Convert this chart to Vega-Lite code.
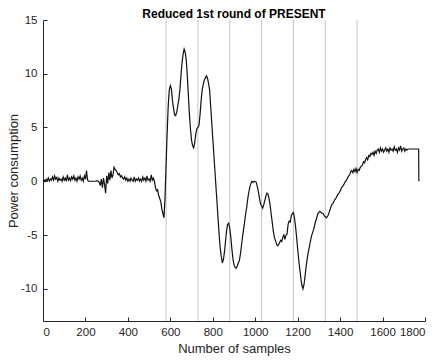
{
  "$schema": "https://vega.github.io/schema/vega-lite/v6.json",
  "width": 382,
  "height": 301,
  "autosize": "none",
  "padding": {"left": 43, "top": 20, "right": 13, "bottom": 39},
  "background": "white",
  "title": {"text": "Reduced 1st round of PRESENT", "font": "Liberation Sans", "fontSize": 12, "fontWeight": "bold", "color": "#000000", "offset": -7, "anchor": "middle", "frame": "group"},
  "config": {
    "view": {"stroke": null},
    "axis": {
      "grid": false,
      "domainColor": "#262626",
      "tickColor": "#262626",
      "labelColor": "#262626",
      "titleColor": "#262626",
      "labelFont": "Liberation Sans",
      "titleFont": "Liberation Sans",
      "labelFontSize": 11.5,
      "titleFontSize": 13,
      "titleFontWeight": "normal",
      "tickSize": -4,
      "domainWidth": 1,
      "tickWidth": 1,
      "labelOverlap": false
    }
  },
  "layer": [
    {
      "data": {"values": [{"x": 580}, {"x": 730}, {"x": 880}, {"x": 1030}, {"x": 1180}, {"x": 1330}, {"x": 1480}]},
      "mark": {"type": "rule", "color": "#c4c4c4", "strokeWidth": 1},
      "encoding": {"x": {"field": "x", "type": "quantitative"}}
    },
    {
      "data": {"values": [
        {"x":0,"y":0},{"x":5,"y":0.1},{"x":10,"y":0},{"x":15,"y":0.2},{"x":20,"y":0.05},{"x":25,"y":0.3},{"x":30,"y":0},{"x":35,"y":0.2},{"x":40,"y":0.1},{"x":45,"y":0.4},
        {"x":50,"y":0.1},{"x":55,"y":0.5},{"x":60,"y":0.2},{"x":65,"y":0.35},{"x":70,"y":0},{"x":75,"y":0.3},{"x":80,"y":0.1},{"x":85,"y":0.2},{"x":90,"y":0},{"x":95,"y":0.4},
        {"x":100,"y":0.1},{"x":105,"y":0.3},{"x":110,"y":0},{"x":115,"y":0.6},{"x":120,"y":0.1},{"x":125,"y":0.3},{"x":130,"y":0.05},{"x":135,"y":0.4},{"x":140,"y":0.2},{"x":145,"y":0.5},
        {"x":150,"y":0.1},{"x":155,"y":0.3},{"x":160,"y":0},{"x":165,"y":0.4},{"x":170,"y":0.2},{"x":175,"y":0.5},{"x":180,"y":0.1},{"x":185,"y":0.3},{"x":190,"y":0},{"x":195,"y":0.5},
        {"x":200,"y":0.2},{"x":205,"y":1.0},{"x":210,"y":0.1},{"x":215,"y":0},{"x":220,"y":0},{"x":225,"y":0},{"x":230,"y":0},{"x":235,"y":0},{"x":240,"y":0},{"x":245,"y":0},
        {"x":250,"y":0},{"x":255,"y":0.05},{"x":260,"y":0},{"x":265,"y":-0.1},{"x":270,"y":-0.4},{"x":275,"y":0.2},{"x":280,"y":-0.6},{"x":285,"y":0.3},{"x":290,"y":-0.3},{"x":295,"y":-1.1},
        {"x":300,"y":0.5},{"x":305,"y":-0.2},{"x":310,"y":0.8},{"x":315,"y":0.1},{"x":320,"y":1.0},{"x":325,"y":0.3},{"x":330,"y":0.6},{"x":335,"y":1.3},{"x":340,"y":1.1},{"x":345,"y":1.0},
        {"x":350,"y":0.8},{"x":355,"y":0.6},{"x":360,"y":0.7},{"x":365,"y":0.4},{"x":370,"y":0.5},{"x":375,"y":0.3},{"x":380,"y":0.2},{"x":385,"y":0.4},{"x":390,"y":0.1},{"x":395,"y":0.3},
        {"x":400,"y":0},{"x":405,"y":0.2},{"x":410,"y":0},{"x":415,"y":0.3},{"x":420,"y":0.1},{"x":425,"y":0},{"x":430,"y":0.4},{"x":435,"y":0},{"x":440,"y":0.2},{"x":445,"y":0.1},
        {"x":450,"y":0.3},{"x":455,"y":0},{"x":460,"y":0.2},{"x":465,"y":0},{"x":470,"y":0.4},{"x":475,"y":0.1},{"x":480,"y":0.3},{"x":485,"y":0},{"x":490,"y":0.5},{"x":495,"y":0.1},
        {"x":500,"y":0.2},{"x":505,"y":0},{"x":510,"y":0.6},{"x":515,"y":0.1},{"x":520,"y":0.3},{"x":525,"y":0},{"x":530,"y":-0.6},{"x":535,"y":-0.9},{"x":540,"y":-0.8},{"x":545,"y":-1.3},
        {"x":550,"y":-1.6},{"x":555,"y":-1.9},{"x":560,"y":-2.6},{"x":565,"y":-3.0},{"x":570,"y":-3.4},{"x":575,"y":-1.5},{"x":580,"y":1.5},{"x":585,"y":4.5},{"x":590,"y":7.0},{"x":595,"y":8.5},
        {"x":600,"y":8.9},{"x":605,"y":8.6},{"x":610,"y":7.5},{"x":615,"y":6.8},{"x":620,"y":6.2},{"x":625,"y":6.1},{"x":630,"y":6.4},{"x":635,"y":7.0},{"x":640,"y":7.6},{"x":645,"y":8.5},
        {"x":650,"y":9.8},{"x":655,"y":11.0},{"x":660,"y":11.8},{"x":665,"y":12.3},{"x":670,"y":12.0},{"x":675,"y":11.3},{"x":680,"y":9.8},{"x":685,"y":8.0},{"x":690,"y":6.2},{"x":695,"y":4.8},
        {"x":700,"y":3.8},{"x":705,"y":3.3},{"x":710,"y":3.1},{"x":715,"y":3.6},{"x":720,"y":4.4},{"x":725,"y":4.9},{"x":730,"y":5.0},{"x":735,"y":5.2},{"x":740,"y":6.2},{"x":745,"y":7.5},
        {"x":750,"y":8.5},{"x":755,"y":9.0},{"x":760,"y":9.4},{"x":765,"y":9.6},{"x":770,"y":9.8},{"x":775,"y":9.6},{"x":780,"y":9.1},{"x":785,"y":8.5},{"x":790,"y":7.0},{"x":795,"y":5.5},
        {"x":800,"y":4.0},{"x":805,"y":2.5},{"x":810,"y":1.0},{"x":815,"y":-0.5},{"x":820,"y":-2.0},{"x":825,"y":-3.5},{"x":830,"y":-5.0},{"x":835,"y":-6.2},{"x":840,"y":-7.0},{"x":845,"y":-7.6},
        {"x":850,"y":-7.3},{"x":855,"y":-6.6},{"x":860,"y":-5.6},{"x":865,"y":-4.6},{"x":870,"y":-4.0},{"x":875,"y":-3.9},{"x":880,"y":-4.4},{"x":885,"y":-5.2},{"x":890,"y":-6.3},{"x":895,"y":-7.2},
        {"x":900,"y":-7.8},{"x":905,"y":-8.0},{"x":910,"y":-8.1},{"x":915,"y":-7.9},{"x":920,"y":-7.6},{"x":925,"y":-7.4},{"x":930,"y":-6.8},{"x":935,"y":-6.0},{"x":940,"y":-5.2},{"x":945,"y":-4.5},
        {"x":950,"y":-3.8},{"x":955,"y":-3.0},{"x":960,"y":-2.4},{"x":965,"y":-1.6},{"x":970,"y":-1.0},{"x":975,"y":-0.5},{"x":980,"y":-0.2},{"x":985,"y":0},{"x":990,"y":-0.1},{"x":995,"y":0},
        {"x":1000,"y":-0.05},{"x":1005,"y":-0.1},{"x":1010,"y":-0.5},{"x":1015,"y":-1.0},{"x":1020,"y":-1.6},{"x":1025,"y":-2.1},{"x":1030,"y":-2.3},{"x":1035,"y":-2.5},{"x":1040,"y":-2.2},{"x":1045,"y":-1.8},
        {"x":1050,"y":-1.4},{"x":1055,"y":-1.1},{"x":1060,"y":-1.2},{"x":1065,"y":-1.6},{"x":1070,"y":-2.2},{"x":1075,"y":-3.0},{"x":1080,"y":-3.8},{"x":1085,"y":-4.6},{"x":1090,"y":-5.2},{"x":1095,"y":-5.5},
        {"x":1100,"y":-5.8},{"x":1105,"y":-6.0},{"x":1110,"y":-5.9},{"x":1115,"y":-5.7},{"x":1120,"y":-5.5},{"x":1125,"y":-5.6},{"x":1130,"y":-5.2},{"x":1135,"y":-5.0},{"x":1140,"y":-5.4},{"x":1145,"y":-5.0},
        {"x":1150,"y":-4.9},{"x":1155,"y":-4.0},{"x":1160,"y":-3.7},{"x":1165,"y":-3.8},{"x":1170,"y":-3.2},{"x":1175,"y":-3.0},{"x":1180,"y":-2.9},{"x":1185,"y":-3.4},{"x":1190,"y":-4.2},{"x":1195,"y":-5.2},
        {"x":1200,"y":-6.3},{"x":1205,"y":-7.3},{"x":1210,"y":-8.2},{"x":1215,"y":-9.0},{"x":1220,"y":-9.7},{"x":1225,"y":-10.0},{"x":1230,"y":-9.6},{"x":1235,"y":-8.8},{"x":1240,"y":-7.9},{"x":1245,"y":-7.2},
        {"x":1250,"y":-6.6},{"x":1255,"y":-6.1},{"x":1260,"y":-5.6},{"x":1265,"y":-5.1},{"x":1270,"y":-4.8},{"x":1275,"y":-4.5},{"x":1280,"y":-4.1},{"x":1285,"y":-3.7},{"x":1290,"y":-3.4},{"x":1295,"y":-3.0},
        {"x":1300,"y":-2.9},{"x":1305,"y":-2.8},{"x":1310,"y":-2.9},{"x":1315,"y":-3.0},{"x":1320,"y":-3.0},{"x":1325,"y":-3.2},{"x":1330,"y":-3.3},{"x":1335,"y":-3.4},{"x":1340,"y":-3.3},{"x":1345,"y":-3.1},
        {"x":1350,"y":-2.8},{"x":1355,"y":-2.5},{"x":1360,"y":-2.2},{"x":1365,"y":-2.1},{"x":1370,"y":-1.9},{"x":1375,"y":-1.7},{"x":1380,"y":-1.6},{"x":1385,"y":-1.4},{"x":1390,"y":-1.2},{"x":1395,"y":-1.1},
        {"x":1400,"y":-0.9},{"x":1405,"y":-0.7},{"x":1410,"y":-0.5},{"x":1415,"y":-0.4},{"x":1420,"y":-0.2},{"x":1425,"y":0.0},{"x":1430,"y":0.1},{"x":1435,"y":0.3},{"x":1440,"y":0.5},{"x":1445,"y":0.6},
        {"x":1450,"y":0.9},{"x":1455,"y":1.0},{"x":1460,"y":0.8},{"x":1465,"y":1.1},{"x":1470,"y":0.9},{"x":1475,"y":1.2},{"x":1480,"y":0.8},{"x":1485,"y":1.1},{"x":1490,"y":1.0},{"x":1495,"y":1.3},
        {"x":1500,"y":1.4},{"x":1505,"y":1.5},{"x":1510,"y":1.8},{"x":1515,"y":1.7},{"x":1520,"y":2.0},{"x":1525,"y":2.2},{"x":1530,"y":2.0},{"x":1535,"y":2.4},{"x":1540,"y":2.3},{"x":1545,"y":2.6},
        {"x":1550,"y":2.5},{"x":1555,"y":2.7},{"x":1560,"y":2.4},{"x":1565,"y":2.8},{"x":1570,"y":2.6},{"x":1575,"y":2.9},{"x":1580,"y":3.0},{"x":1585,"y":2.7},{"x":1590,"y":3.1},{"x":1595,"y":2.8},
        {"x":1600,"y":3.0},{"x":1605,"y":2.7},{"x":1610,"y":2.9},{"x":1615,"y":3.1},{"x":1620,"y":2.8},{"x":1625,"y":3.0},{"x":1630,"y":2.7},{"x":1635,"y":3.1},{"x":1640,"y":2.9},{"x":1645,"y":3.0},
        {"x":1650,"y":2.8},{"x":1655,"y":3.2},{"x":1660,"y":2.9},{"x":1665,"y":3.0},{"x":1670,"y":2.7},{"x":1675,"y":3.1},{"x":1680,"y":2.9},{"x":1685,"y":3.3},{"x":1690,"y":2.8},{"x":1695,"y":3.0},
        {"x":1700,"y":3.1},{"x":1705,"y":2.8},{"x":1710,"y":3.0},{"x":1715,"y":2.9},{"x":1720,"y":3.0},{"x":1730,"y":3.0},{"x":1740,"y":3.0},{"x":1750,"y":3.0},{"x":1760,"y":3.0},{"x":1770,"y":3.0},
        {"x":1771,"y":0}
      ]},
      "mark": {"type": "line", "color": "#111111", "strokeWidth": 1.2},
      "encoding": {
        "x": {"field": "x", "type": "quantitative", "scale": {"domain": [0, 1800], "nice": false}, "axis": {"values": [0, 200, 400, 600, 800, 1000, 1200, 1400, 1600, 1800], "format": "d", "title": "Number of samples", "labelPadding": 9, "titlePadding": 5}},
        "y": {"field": "y", "type": "quantitative", "scale": {"domain": [-13, 15], "nice": false, "zero": false}, "axis": {"values": [-10, -5, 0, 5, 10, 15], "title": "Power consumption", "labelPadding": 10, "titlePadding": 0, "labelExpr": "datum.value < 0 ? '-' + abs(datum.value) : '' + datum.value"}}
      }
    }
  ]
}
